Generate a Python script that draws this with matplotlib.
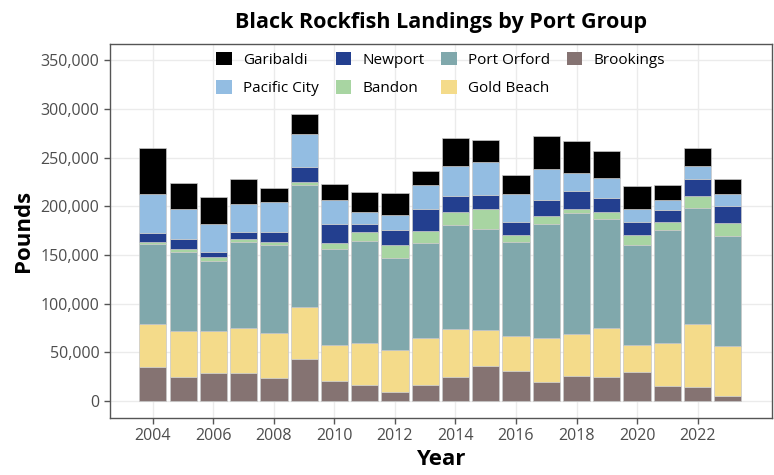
import numpy as np
import matplotlib.pyplot as plt
from matplotlib.ticker import FuncFormatter

plt.rcParams['font.family'] = ['Open Sans', 'DejaVu Sans']

years = list(range(2004, 2024))

# pounds by port
brookings = [34600, 24600, 28700, 28700, 23300, 43100, 20500, 16100, 9500, 16100,
             24600, 36200, 30500, 19500, 25700, 24300, 29400, 15700, 14100, 4800]
gold_beach = [44200, 47600, 43500, 45900, 46800, 53700, 36700, 43400, 42800, 48200,
              49000, 36700, 36500, 44800, 42700, 51000, 27800, 43800, 64900, 51700]
port_orford = [82500, 80400, 71500, 88600, 90400, 124900, 98800, 105000, 94800, 97600,
               107400, 104000, 96200, 117400, 124600, 111500, 103300, 116000, 119400, 113200]
bandon = [1700, 3700, 4400, 2800, 2400, 3400, 5900, 8600, 13400, 12900,
          13300, 19900, 7500, 8500, 4100, 7200, 9500, 7900, 12300, 12700]
newport = [9600, 10000, 4500, 7500, 10200, 15100, 19800, 8600, 15000, 22000,
           16400, 14600, 13000, 16100, 18100, 14400, 13400, 12600, 17500, 17700]
pacific_city = [40000, 30500, 28700, 28400, 31200, 34200, 24300, 12000, 15700, 24600,
                30800, 33900, 28400, 31800, 18500, 20500, 13700, 10300, 12700, 12000]
garibaldi = [46800, 27000, 28100, 26000, 14600, 20500, 16700, 20500, 22000, 15000,
             28800, 22300, 19900, 33600, 32900, 27400, 23600, 15400, 18500, 15800]

ports = ['Brookings', 'Gold Beach', 'Port Orford', 'Bandon', 'Newport', 'Pacific City', 'Garibaldi']
series = [brookings, gold_beach, port_orford, bandon, newport, pacific_city, garibaldi]
colors = ['#857372', '#f4db8a', '#80a8ac', '#a8d5a2', '#233f8f', '#93bde2', '#000000']

fig = plt.figure(figsize=(7.74, 4.75), dpi=100)
ax = fig.add_axes([0.142, 0.12, 0.855, 0.787])

bottom = np.zeros(len(years))
handles = {}
for name, vals, col in zip(ports, series, colors):
    b = ax.bar(years, vals, bottom=bottom, width=0.9, color=col,
               edgecolor='#c8c8c8', linewidth=0.5, label=name, zorder=3)
    handles[name] = b
    bottom += np.array(vals)

ax.set_xlim(2002.58, 2024.45)
ax.set_ylim(-17500, 366500)
ax.set_xticks(range(2004, 2023, 2))
ax.set_yticks(range(0, 350001, 50000))
ax.yaxis.set_major_formatter(FuncFormatter(lambda v, p: f'{int(v):,}'))
ax.grid(True, color='#ebebeb', linewidth=1.0, zorder=0)
ax.set_axisbelow(True)
for s in ax.spines.values():
    s.set_color('#555555')
    s.set_linewidth(1.0)
ax.tick_params(axis='both', colors='#555555', labelcolor='#4d4d4d', labelsize=11.5,
               length=4, width=1.0)

ax.set_xlabel('Year', fontsize=16, fontweight='bold', labelpad=3)
ax.set_ylabel('Pounds', fontsize=16, fontweight='bold', labelpad=5)
ax.set_title('Black Rockfish Landings by Port Group', fontsize=15.5, fontweight='bold', pad=12)

order = ['Garibaldi', 'Pacific City', 'Newport', 'Bandon', 'Port Orford', 'Gold Beach', 'Brookings']
leg = ax.legend([handles[n] for n in order], order, loc='upper center', ncol=4,
                frameon=False, fontsize=11, handlelength=1.0, handleheight=1.0,
                columnspacing=1.1, handletextpad=0.75, borderaxespad=0.1,
                labelspacing=0.8, bbox_to_anchor=(0.5, 1.0))
for h in leg.legend_handles:
    h.set_edgecolor('none')

plt.savefig('out.png', dpi=100)
